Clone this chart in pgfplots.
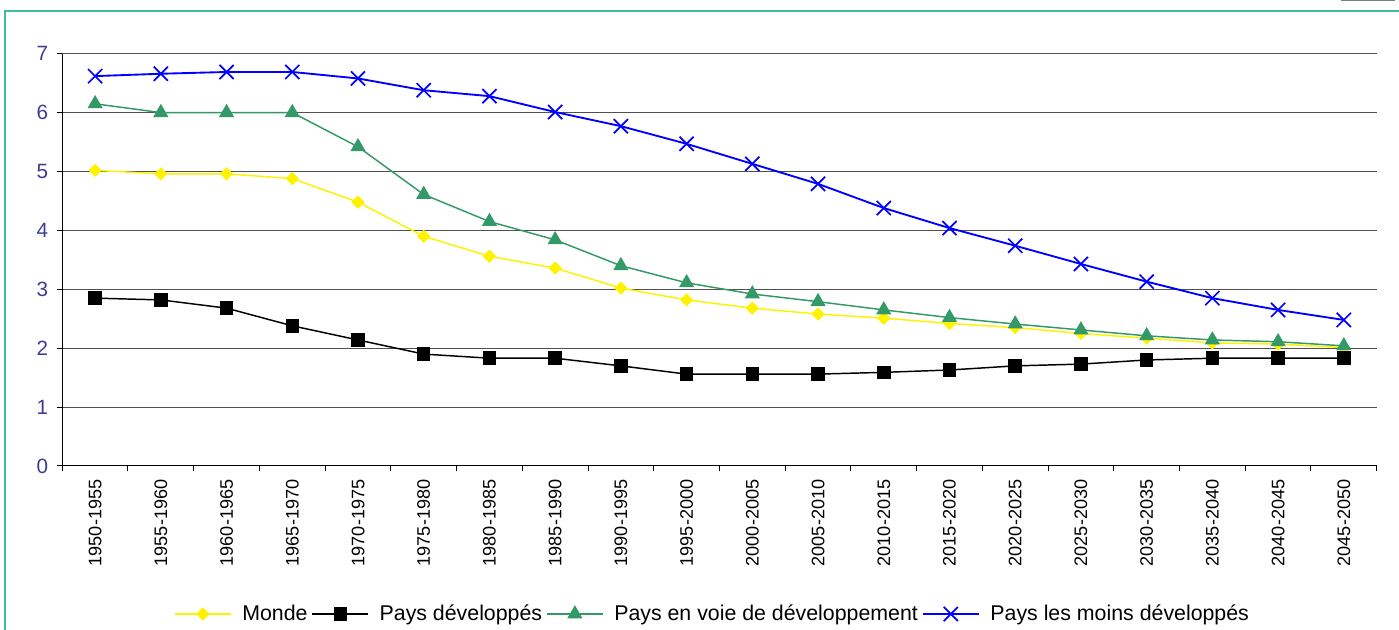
\documentclass[border=0pt]{standalone}
\usepackage{pgfplots}
\pgfplotsset{compat=1.18}
\usepackage{fontspec}
\setmainfont{Liberation Sans}
\definecolor{frameteal}{RGB}{60,190,150}
\definecolor{ylab}{RGB}{60,60,150}
\definecolor{pvdgreen}{RGB}{51,153,102}
\definecolor{gridgrey}{RGB}{80,80,80}
\begin{document}
\begin{tikzpicture}
\path[use as bounding box] (0,0) rectangle (1049.25pt,472.5pt);
\begin{scope}
\clip (0,0) rectangle (1049.25pt,472.5pt);
\draw[frameteal, line width=0.9pt] (3.75pt,464.25pt) rectangle (1060pt,-10pt);
\draw[gray, line width=1pt] (1006pt,472pt) -- (1046pt,472pt);
\end{scope}
\begin{axis}[
  at={(46.7pt,123pt)}, anchor=south west,
  scale only axis, width=985.8pt, height=309.2pt,
  xmin=-0.5, xmax=19.5, ymin=0, ymax=7,
  /pgf/number format/assume math mode=true,
  axis lines=left, axis line style={-, black, line width=0.75pt},
  xtick={0,...,19},
  xticklabels={1950-1955,1955-1960,1960-1965,1965-1970,1970-1975,1975-1980,1980-1985,1985-1990,1990-1995,1995-2000,2000-2005,2005-2010,2010-2015,2015-2020,2020-2025,2025-2030,2030-2035,2035-2040,2040-2045,2045-2050},
  x tick label style={rotate=90, anchor=east, font=\fontsize{13.6}{15}\selectfont, black, inner sep=1pt, xshift=-5pt},
  minor xtick={-0.5,0.5,...,19.5},
  x tick style={draw=none},
  minor x tick style={draw=black, line width=0.75pt},
  minor tick length=4pt,
  tick align=outside,
  ytick={0,...,7},
  y tick label style={font=\fontsize{15.5}{18}\selectfont, ylab, xshift=-3pt},
  y tick style={black, line width=0.75pt},
  major tick length=4pt,
  ymajorgrids, grid style={gridgrey, line width=0.75pt},
  legend style={at={(0.495,-0.359)}, anchor=center, draw=none, font=\fontsize{16}{18}\selectfont, legend columns=4,
    /tikz/every even column/.append style={column sep=1pt},
    /tikz/every odd column/.append style={column sep=6pt}},
  legend image code/.code={
    \draw[#1, mark=none] (0pt,0pt) -- (42pt,0pt);
    \draw[#1, only marks] plot coordinates {(21pt,0pt)};
  },
]
\addplot[color=yellow, line width=1.1pt, mark=square*, mark size=3pt, mark options={fill=yellow, draw=yellow, rotate=45}] coordinates {
(0,5.02)(1,4.96)(2,4.96)(3,4.88)(4,4.48)(5,3.90)(6,3.56)(7,3.36)(8,3.02)(9,2.82)(10,2.68)(11,2.58)(12,2.51)(13,2.42)(14,2.35)(15,2.25)(16,2.17)(17,2.09)(18,2.07)(19,2.01)};
\addlegendentry{Monde}
\addplot[color=black, line width=1.1pt, mark=square*, mark size=4.5pt, mark options={fill=black}] coordinates {
(0,2.85)(1,2.82)(2,2.68)(3,2.38)(4,2.14)(5,1.90)(6,1.83)(7,1.83)(8,1.70)(9,1.56)(10,1.56)(11,1.56)(12,1.59)(13,1.63)(14,1.70)(15,1.73)(16,1.80)(17,1.83)(18,1.83)(19,1.83)};
\addlegendentry{Pays développés}
\addplot[color=pvdgreen, line width=1.1pt, mark=triangle*, mark size=5.5pt, mark options={fill=pvdgreen}] coordinates {
(0,6.15)(1,6.00)(2,6.00)(3,6.00)(4,5.42)(5,4.61)(6,4.15)(7,3.84)(8,3.40)(9,3.11)(10,2.92)(11,2.79)(12,2.65)(13,2.52)(14,2.41)(15,2.31)(16,2.21)(17,2.14)(18,2.11)(19,2.04)};
\addlegendentry{Pays en voie de développement}
\addplot[color=blue, line width=1.4pt, mark=x, mark size=7.5pt, mark options={line width=1.3pt}] coordinates {
(0,6.62)(1,6.66)(2,6.69)(3,6.69)(4,6.58)(5,6.38)(6,6.28)(7,6.01)(8,5.77)(9,5.47)(10,5.13)(11,4.79)(12,4.38)(13,4.04)(14,3.74)(15,3.43)(16,3.13)(17,2.85)(18,2.65)(19,2.48)};
\addlegendentry{Pays les moins développés}
\end{axis}
\end{tikzpicture}
\end{document}
